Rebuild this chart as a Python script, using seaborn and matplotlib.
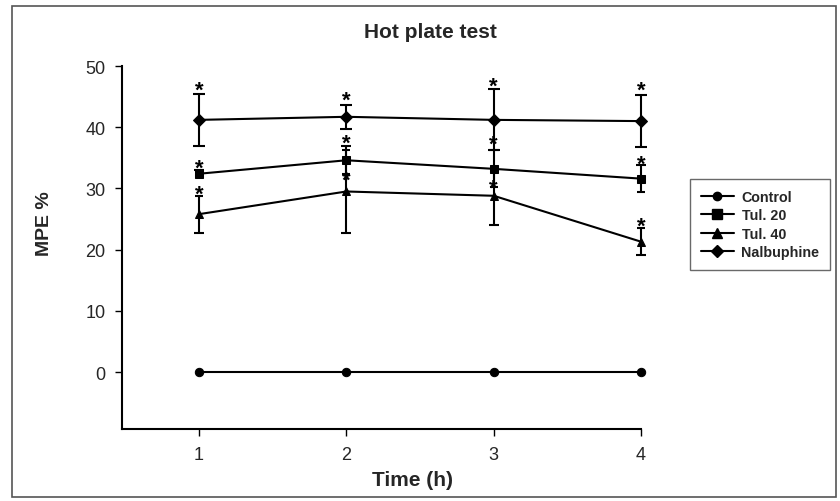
import numpy as np
import pandas as pd
import seaborn as sns
import matplotlib.pyplot as plt
from matplotlib.patches import Rectangle
from matplotlib.lines import Line2D

sns.set_theme(style="ticks")
plt.rcParams['font.family'] = ['Liberation Sans', 'DejaVu Sans']

# ---- data ----
time_h = [1, 2, 3, 4]
groups = ["Control", "Tul. 20", "Tul. 40", "Nalbuphine"]
control_mean = [0.0, 0.0, 0.0, 0.0]
control_se = [0.0, 0.0, 0.0, 0.0]
tul20_mean = [32.4, 34.6, 33.2, 31.6]
tul20_se = [0.6, 2.3, 3.0, 2.2]
tul40_mean = [25.8, 29.5, 28.8, 21.3]
tul40_se = [3.0, 6.8, 4.7, 2.2]
nalb_mean = [41.2, 41.7, 41.2, 41.0]
nalb_se = [4.2, 2.0, 5.0, 4.3]
# asterisk (significance) label heights, in MPE % units
tul20_star = [34.5, 38.6, 38.4, 35.2]
tul40_star = [30.2, 32.6, 31.2, 25.1]
nalb_star = [47.2, 45.7, 48.0, 47.2]

means = [control_mean, tul20_mean, tul40_mean, nalb_mean]
ses = [control_se, tul20_se, tul40_se, nalb_se]
stars = [None, tul20_star, tul40_star, nalb_star]
markers = ["o", "s", "^", "D"]
msizes = {"Control": 6, "Tul. 20": 6.5, "Tul. 40": 6.5, "Nalbuphine": 6}

df = pd.DataFrame({
    "Time": np.tile(time_h, len(groups)),
    "MPE": np.concatenate(means),
    "Group": np.repeat(groups, len(time_h)),
})

fig = plt.figure(figsize=(8.4, 5.02), dpi=100)
ax = fig.add_axes([122/840, 1 - 430/502, (641-122)/840, (430-67)/502])

for g, m, s in zip(groups, means, ses):
    if any(v > 0 for v in s):
        ax.errorbar(time_h, m, yerr=s, fmt="none", ecolor="black",
                    elinewidth=1.5, capsize=4.5, capthick=1.5, clip_on=False, zorder=2)

sns.lineplot(data=df, x="Time", y="MPE", hue="Group", style="Group",
             palette=["black"]*4, markers=markers, dashes=False,
             linewidth=1.5, markeredgecolor="black",
             ax=ax, legend=False, zorder=3, clip_on=False)
for line, g in zip(ax.lines, groups):
    line.set_markersize(msizes[g])

fs_star = 16
for st in stars:
    if st is None:
        continue
    for x, y in zip(time_h, st):
        ax.annotate("*", xy=(x, y), xytext=(0, -0.585*fs_star), textcoords="offset points",
                    ha="center", va="baseline", fontsize=fs_star, color="black",
                    fontweight="bold", annotation_clip=False)

ax.set_xlim(0.477, 4.0)
ax.set_ylim(-9.3, 50)
ax.set_xticks(time_h)
ax.set_yticks([0, 10, 20, 30, 40, 50])
ax.tick_params(axis="both", labelsize=13, length=5, width=1, color="black", pad=7)
for sp in ["top", "right"]:
    ax.spines[sp].set_visible(False)
for sp in ["left", "bottom"]:
    ax.spines[sp].set_linewidth(1.5)
    ax.spines[sp].set_color("black")
ax.set_xlabel("Time (h)", fontsize=15, fontweight="bold", va="center", ha="center")
ax.xaxis.set_label_coords((413-122)/519, (430-481)/363)
ax.set_ylabel("MPE %", fontsize=14, fontweight="bold", va="center", ha="center")
ax.yaxis.set_label_coords((44-122)/519, (430-224)/363)

fig.text(430/840, 1 - 33/502, "Hot plate test", ha="center", va="center",
         fontsize=15, fontweight="bold")

handles = [Line2D([0], [0], color="black", lw=1.5, marker=mk, markersize=msizes[g],
                  markerfacecolor="black", markeredgecolor="black")
           for mk, g in zip(markers, groups)]
leg = fig.legend(handles, groups, loc="upper left",
                 bbox_to_anchor=(690/840, 1 - 180/502),
                 prop={"weight": "bold", "size": 10.3}, frameon=True, fancybox=False,
                 handlelength=2.3, handletextpad=0.55, borderpad=0.75, labelspacing=0.32,
                 borderaxespad=0)
leg.get_frame().set_edgecolor("#444444")
leg.get_frame().set_linewidth(1.0)

fig.patches.append(Rectangle((12/840, 4/502), (836-12)/840, (491)/502, transform=fig.transFigure,
                             fill=False, edgecolor="#555555", linewidth=1.2))

fig.savefig("out.png", dpi=100)
